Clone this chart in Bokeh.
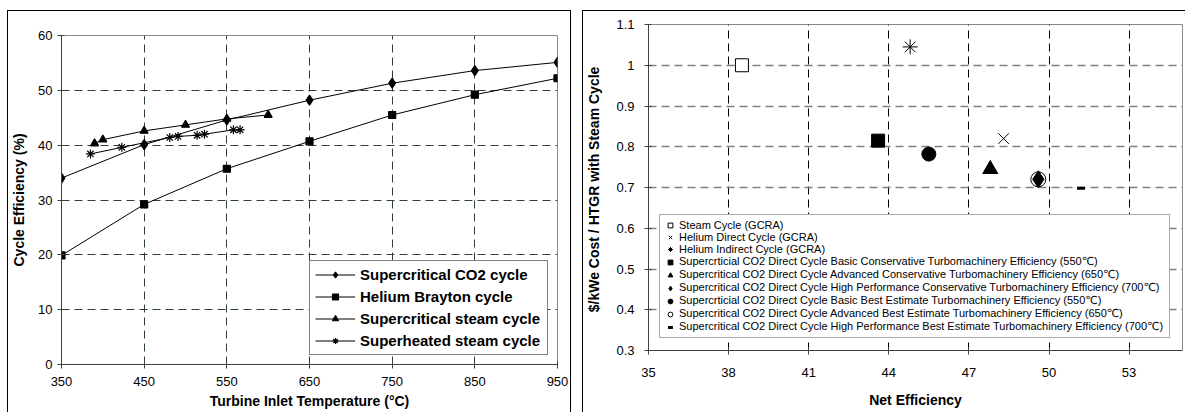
from bokeh.plotting import figure
from bokeh.models import Legend, LegendItem, FixedTicker, Range1d
from bokeh.layouts import row, column
from bokeh.embed import file_html
from bokeh.resources import INLINE

FONT = "Liberation Sans"

# ---------------- Left chart data ----------------
temp_ticks = [350, 450, 550, 650, 750, 850, 950]
eff_ticks = [0, 10, 20, 30, 40, 50, 60]

co2_temp = [350, 450, 550, 650, 750, 850, 950]
co2_eff = [34.0, 40.1, 44.6, 48.2, 51.3, 53.6, 55.1]

he_temp = [350, 450, 550, 650, 750, 850, 950]
he_eff = [19.9, 29.2, 35.7, 40.7, 45.5, 49.2, 52.2]

scs_temp = [390, 400, 450, 500, 550, 600]
scs_eff = [40.3, 41.0, 42.6, 43.7, 44.8, 45.5]

shs_temp = [385, 423, 481, 491, 514, 523, 558, 566]
shs_eff = [38.4, 39.6, 41.4, 41.6, 41.8, 42.0, 42.8, 42.8]

left_labels = ["Supercritical CO2 cycle", "Helium Brayton cycle",
               "Supercritical steam cycle", "Superheated steam cycle"]

# ---------------- Right chart data ----------------
net_ticks = [35, 38, 41, 44, 47, 50, 53]
cost_ticks = [0.3, 0.4, 0.5, 0.6, 0.7, 0.8, 0.9, 1.0, 1.1]

right_labels = [
    "Steam Cycle (GCRA)",
    "Helium Direct Cycle (GCRA)",
    "Helium Indirect Cycle (GCRA)",
    "Supercrticial CO2 Direct Cycle Basic Conservative Turbomachinery Efficiency (550\u2103)",
    "Supercritical CO2 Direct Cycle Advanced Conservative Turbomachinery Efficiency (650\u2103)",
    "Supercritical CO2 Direct Cycle High Performance Conservative Turbomachinery Efficiency (700\u2103)",
    "Supercrticial CO2 Direct Cycle Basic Best Estimate Turbomachinery Efficiency (550\u2103)",
    "Supercritical CO2 Direct Cycle Advanced Best Estimate Turbomachinery Efficiency (650\u2103)",
    "Supercritical CO2 Direct Cycle High Performance Best Estimate Turbomachinery Efficiency (700\u2103)",
]
right_eff = [38.5, 48.3, 44.8, 43.6, 47.8, 49.6, 45.5, 49.6, 51.2]
right_cost = [1.0, 0.82, 1.045, 0.815, 0.745, 0.72, 0.782, 0.72, 0.698]


def style_axes(p):
    for ax in (p.xaxis[0], p.yaxis[0]):
        ax.axis_line_color = "#404040"
        ax.major_tick_line_color = "#404040"
        ax.major_tick_in = 3
        ax.major_tick_out = 4
        ax.minor_tick_line_color = None
        ax.major_label_text_font = FONT
        ax.major_label_text_font_size = "13px"
        ax.major_label_text_color = "black"
        ax.axis_label_text_font = FONT
        ax.axis_label_text_font_size = "14px"
        ax.axis_label_text_font_style = "bold"
        ax.axis_label_text_color = "black"
    p.outline_line_color = "#888888"
    p.background_fill_color = "white"
    p.border_fill_color = "white"


# ---------------- Left figure ----------------
p1 = figure(width=564, height=402, output_backend="svg", toolbar_location=None,
            title=None, x_range=Range1d(350, 950), y_range=Range1d(0, 60),
            min_border_left=51, min_border_right=15, min_border_top=24,
            min_border_bottom=49, margin=(10, 0, 0, 7))
style_axes(p1)
p1.xaxis.ticker = FixedTicker(ticks=temp_ticks)
p1.yaxis.ticker = FixedTicker(ticks=eff_ticks)
p1.xaxis.axis_label = "Turbine Inlet Temperature (\u00b0C)"
p1.yaxis.axis_label = "Cycle Efficiency (%)"
p1.xaxis.major_label_standoff = 8
p1.xaxis.axis_label_standoff = 4
p1.yaxis.major_label_standoff = 5
p1.yaxis.axis_label_standoff = 8
for g in (p1.xgrid[0], p1.ygrid[0]):
    g.grid_line_color = "#2f3f3a"
    g.grid_line_dash = "8 5"
    g.grid_line_width = 1

series = [
    (co2_temp, co2_eff, "diamond", 10),
    (he_temp, he_eff, "square", 7),
    (scs_temp, scs_eff, "triangle", 8),
    (shs_temp, shs_eff, "asterisk", 9),
]
items = []
for (xs, ys, mk, sz), lab in zip(series, left_labels):
    lr = p1.line(xs, ys, line_color="black", line_width=1)
    sr = p1.scatter(xs, ys, marker=mk, size=sz, fill_color="black",
                    line_color="black", line_width=1.2)
    items.append(LegendItem(label=lab, renderers=[lr, sr]))

leg1 = Legend(items=items, location="bottom_right", margin=9,
              label_text_font=FONT, label_text_font_size="15px",
              label_text_font_style="bold", label_text_color="black",
              glyph_width=40, glyph_height=15, label_height=15,
              label_width=182,
              spacing=5, padding=5, label_standoff=5,
              border_line_color="black", border_line_width=1,
              background_fill_color="white", background_fill_alpha=1)
p1.add_layout(leg1)
p1.styles = {"border-top": "1px solid black", "border-left": "1px solid black",
             "border-right": "1px solid black", "box-sizing": "border-box"}

# ---------------- Right figure ----------------
p2 = figure(width=603, height=402, output_backend="svg", toolbar_location=None,
            title=None, x_range=Range1d(35, 55), y_range=Range1d(0.3, 1.1),
            min_border_left=64, min_border_right=4, min_border_top=13,
            min_border_bottom=63, margin=(10, 0, 0, 11))
style_axes(p2)
p2.xaxis.ticker = FixedTicker(ticks=net_ticks)
p2.yaxis.ticker = FixedTicker(ticks=cost_ticks)
p2.yaxis.major_label_overrides = {1: "1"}
p2.xaxis.axis_label = "Net Efficiency"
p2.yaxis.axis_label = "$/kWe Cost / HTGR with  Steam Cycle"
p2.xaxis.major_label_standoff = 13
p2.xaxis.axis_label_standoff = 12
p2.yaxis.major_label_standoff = 10
p2.yaxis.axis_label_standoff = 11
p2.xgrid.grid_line_color = "black"
p2.xgrid.grid_line_dash = "8 5"
p2.ygrid.grid_line_color = "#808080"
p2.ygrid.grid_line_dash = "8 5"
p2.ygrid.grid_line_width = 1.5

marks = [
    dict(marker="square", size=13, fill_color="white", line_color="black", line_width=1),
    dict(marker="x", size=15, fill_color=None, line_color="black", line_width=1),
    dict(marker="asterisk", size=15, fill_color=None, line_color="black", line_width=1),
    dict(marker="square", size=13, fill_color="black", line_color="black", line_width=1),
    dict(marker="triangle", size=15, fill_color="black", line_color="black", line_width=1),
    dict(marker="diamond", size=17, fill_color="black", line_color="black", line_width=1),
    dict(marker="circle", size=14, fill_color="black", line_color="black", line_width=1),
    dict(marker="circle", size=15, fill_color="white", line_color="black", line_width=1),
    dict(marker="dash", size=8, fill_color=None, line_color="black", line_width=3),
]
order = [0, 1, 2, 3, 4, 7, 5, 6, 8]  # draw open circle under the diamond
rends = [None] * len(marks)
for i in order:
    rends[i] = p2.scatter([right_eff[i]], [right_cost[i]], **marks[i])

items2 = [LegendItem(label=lab, renderers=[r]) for lab, r in zip(right_labels, rends)]
leg2 = Legend(items=items2, location="bottom_right", margin=12,
              label_text_font="'Liberation Sans', 'DejaVu Sans'",
              label_text_font_size="11px",
              label_text_color="black",
              glyph_width=12, glyph_height=12, label_height=12,
              label_width=486,
              spacing=-2, padding=4, label_standoff=3,
              border_line_color="#555555", border_line_width=1.5,
              background_fill_color="white", background_fill_alpha=1)
p2.add_layout(leg2)
p2.styles = {"border-top": "1px solid black", "border-left": "1px solid black",
             "box-sizing": "border-box"}

layout = row(column(p1), column(p2))
open("out.html", "w").write(file_html(layout, INLINE))
